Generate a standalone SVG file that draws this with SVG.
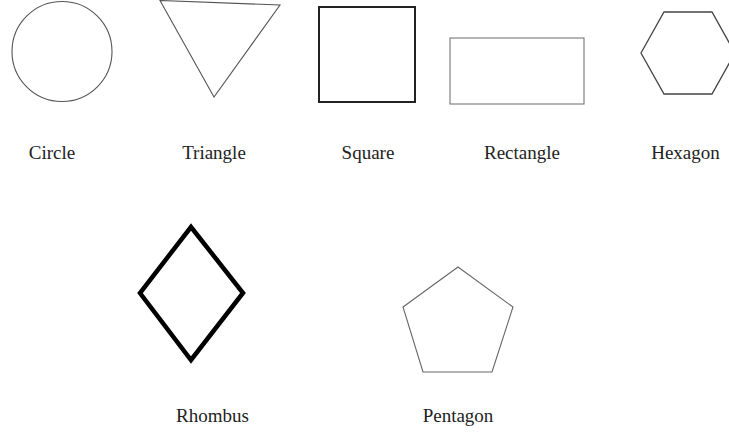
<svg xmlns="http://www.w3.org/2000/svg" width="729" height="434" viewBox="0 0 729 434">
<style>
.lbl{font-family:"Liberation Serif","Times New Roman",serif;font-size:19px;fill:#222;text-anchor:middle}
.thin{fill:none;stroke:#555;stroke-width:1.1}
</style>
<rect width="729" height="434" fill="#fff"/>
<g id="circle"><circle cx="62" cy="51.5" r="50" class="thin"/><text class="lbl" x="52" y="159">Circle</text></g>
<g id="triangle"><polygon points="160,0.5 280,5 214,97" class="thin"/><text class="lbl" x="214" y="159">Triangle</text></g>
<g id="square"><rect x="319" y="7" width="96" height="95" fill="none" stroke="#222" stroke-width="2"/><text class="lbl" x="368" y="159">Square</text></g>
<g id="rectangle"><rect x="450" y="38" width="134" height="66" fill="none" stroke="#777" stroke-width="1.1"/><text class="lbl" x="522" y="159">Rectangle</text></g>
<g id="hexagon"><polygon points="641,53 664,12 712,12 735,53 712,94 664,94" fill="none" stroke="#444" stroke-width="1.3"/><text class="lbl" x="685.5" y="159">Hexagon</text></g>
<g id="rhombus"><polygon points="191,227 243,293 191,360 140,293" fill="none" stroke="#000" stroke-width="4.5"/><text class="lbl" x="212.5" y="422">Rhombus</text></g>
<g id="pentagon"><polygon points="458,267 513,307 492,372 423,372 403,307" fill="none" stroke="#666" stroke-width="1.1"/><text class="lbl" x="458" y="422">Pentagon</text></g>
<g id="connectors"/>
</svg>
